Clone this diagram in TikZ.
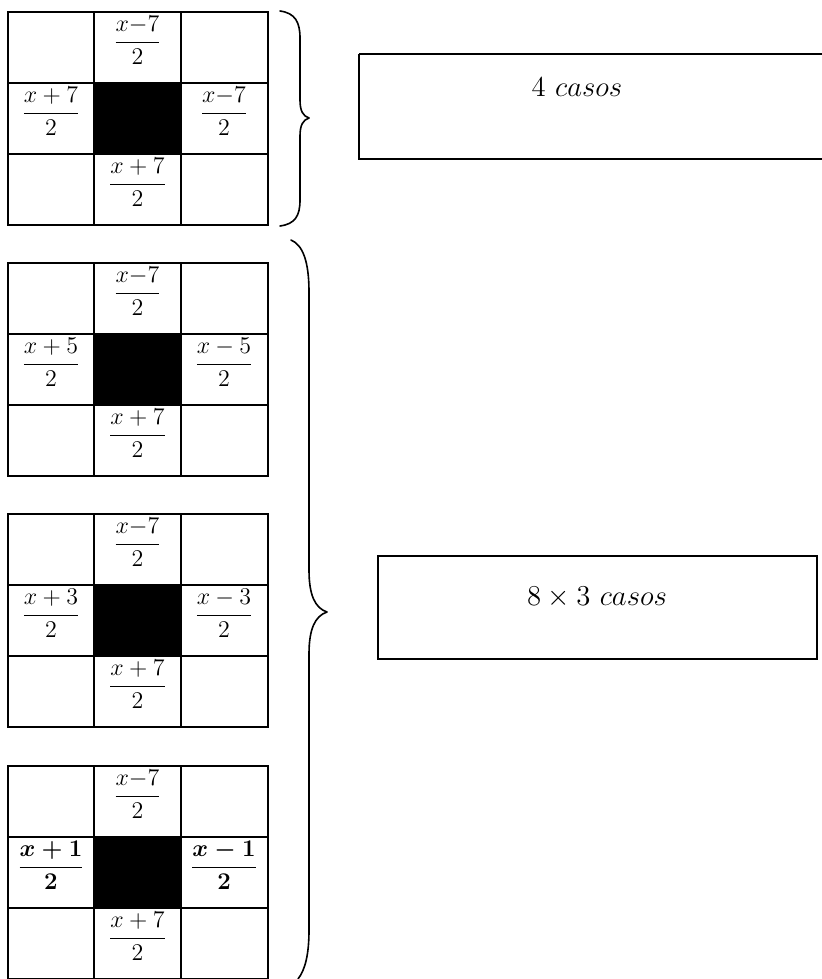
\documentclass[tikz,border=0pt]{standalone}
\usepackage{amsmath}
% one 3x3 grid: #1 top edge, #2 name prefix, #3/#4 left/right fractions
\newcommand{\casegrid}[4]{%
  \fill (94,#1+71) rectangle (181,#1+142);
  \draw[gridline] (8,#1) rectangle (268,#1+213);
  \draw[gridline] (94,#1) -- (94,#1+213)
                  (181,#1) -- (181,#1+213)
                  (8,#1+71) -- (268,#1+71)
                  (8,#1+142) -- (268,#1+142);
  \node[frac] (#2-n) at (137.5,#1+4) {$\dfrac{x{-}7}{2}$};
  \node[frac] (#2-w) at (51,#1+75) {$#3$};
  \node[frac] (#2-e) at (224,#1+75) {$#4$};
  \node[frac] (#2-s) at (137.5,#1+146) {$\dfrac{x+7}{2}$};
}
\begin{document}
\begin{tikzpicture}[x=0.5pt,y=-0.5pt,
  gridline/.style={line width=1.1pt},
  casebox/.style={line width=1pt},
  bracepath/.style={line width=0.8pt, line cap=round, line join=round},
  frac/.style={inner sep=0pt, anchor=north, font=\fontsize{12}{14}\selectfont},
  label/.style={inner sep=0pt, anchor=base, font=\fontsize{14.4}{17}\selectfont}]
\useasboundingbox (0,0) rectangle (822,979);

% four grids, black centre cell, fractions in the edge cells
\casegrid{12}{a}{\dfrac{x+7}{2}}{\dfrac{x{-}7}{2}}
\casegrid{263}{b}{\dfrac{x+5}{2}}{\dfrac{x-5}{2}}
\casegrid{514}{c}{\dfrac{x+3}{2}}{\dfrac{x-3}{2}}
\casegrid{766}{d}{\dfrac{\boldsymbol{x+1}}{\boldsymbol{2}}}{\dfrac{\boldsymbol{x-1}}{\boldsymbol{2}}}

% brace over the first grid
\draw[bracepath] (280,11) .. controls (295,13) and (300,22) .. (300,38)
  -- (300,100) .. controls (300,111) and (303,116) .. (309,118)
  .. controls (303,120) and (300,125) .. (300,136)
  -- (300,200) .. controls (300,216) and (295,224) .. (280,226);

% brace over the remaining three grids
\draw[bracepath] (291,240) .. controls (303,245) and (309,262) .. (309,292)
  -- (309,570) .. controls (309,595) and (315,608) .. (327,612)
  .. controls (315,616) and (309,629) .. (309,654)
  -- (309,930) .. controls (309,955) and (305,970) .. (298,979);

% result boxes
\draw[casebox] (359,54) -- (830,54) (359,54) -- (359,159) -- (830,159);
\node[label] (c4) at (577,97) {$4\ casos$};
\draw[casebox] (378,556) rectangle (817,659);
\node[label] (c24) at (597,605) {$8\times 3\ casos$};
\end{tikzpicture}
\end{document}
